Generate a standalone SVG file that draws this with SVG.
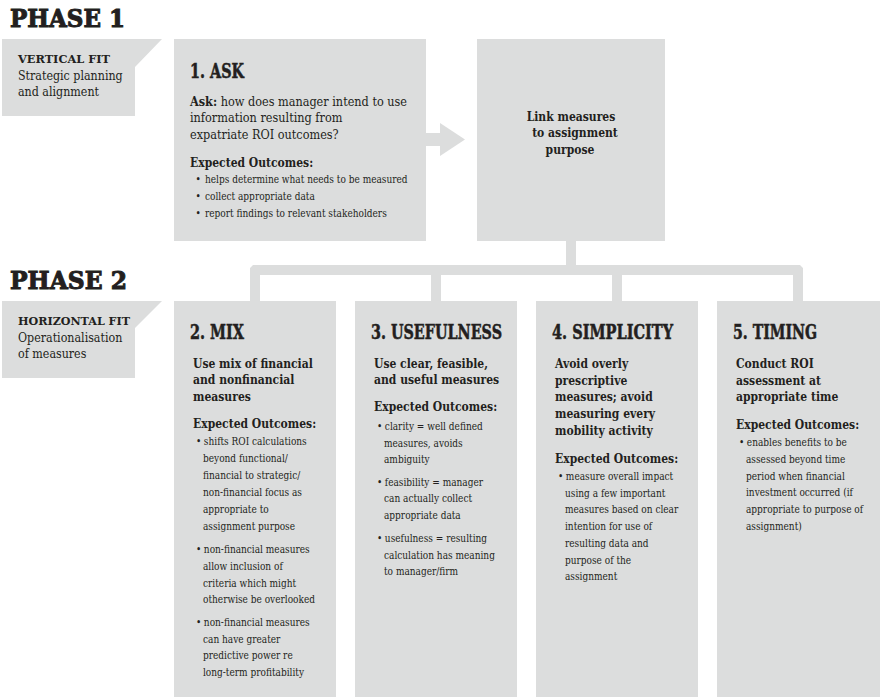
<svg xmlns="http://www.w3.org/2000/svg" width="880" height="697" viewBox="0 0 880 697">
<style>
.box{fill:#dcdddd}
.ph{font-family:"DejaVu Serif","Liberation Serif",serif;font-weight:bold;font-size:24px;fill:#231f20;stroke:#231f20;stroke-width:1}
.ttl{font-family:"DejaVu Serif Condensed","DejaVu Serif",serif;font-weight:bold;font-size:20px;fill:#231f20;stroke:#231f20;stroke-width:0.5}
.fit{font-family:"DejaVu Serif","Liberation Serif",serif;font-weight:bold;font-size:11px;fill:#231f20}
.sub{font-family:"DejaVu Serif Condensed","DejaVu Serif",serif;font-size:13px;fill:#231f20}
.b{font-family:"DejaVu Serif Condensed","DejaVu Serif",serif;font-weight:bold;font-size:12px;fill:#231f20}
.t{font-family:"DejaVu Serif Condensed","DejaVu Serif",serif;font-size:11.5px;fill:#231f20}
.q{font-family:"DejaVu Serif Condensed","DejaVu Serif",serif;font-size:13px;fill:#231f20}
</style>

<text class="ph" x="10" y="27" textLength="115" lengthAdjust="spacingAndGlyphs">PHASE 1</text>
<text class="ph" x="10" y="289" textLength="117" lengthAdjust="spacingAndGlyphs">PHASE 2</text>

<g id="connectors">
<polygon class="box" points="426,133 440,133 440,123 465,139.5 440,156 440,146 426,146"/>
<rect class="box" x="566" y="240" width="10" height="26"/>
<polygon class="box" points="250,268 253,265 800,265 803,268 803,301 793,301 793,275 622,275 622,301 612,301 612,275 441,275 441,301 431,301 431,275 260,275 260,301 250,301"/>
</g>

<g id="vertical-fit">
<polygon class="box" points="2,39 162,39 135,67 135,116 2,116"/>
<text class="fit" x="18" y="63" textLength="92" lengthAdjust="spacingAndGlyphs">VERTICAL FIT</text>
<g transform="translate(18,0) scale(0.95,1)">
<text class="sub" x="0" y="80">Strategic planning</text>
<text class="sub" x="0" y="96">and alignment</text>
</g>
</g>

<g id="horizontal-fit">
<polygon class="box" points="2,301 162,301 135,328 135,378 2,378"/>
<text class="fit" x="18" y="325" textLength="112" lengthAdjust="spacingAndGlyphs">HORIZONTAL FIT</text>
<g transform="translate(18,0) scale(0.95,1)">
<text class="sub" x="0" y="342">Operationalisation</text>
<text class="sub" x="0" y="358">of measures</text>
</g>
</g>

<g id="ask">
<rect class="box" x="174" y="39" width="252" height="202"/>
<text class="ttl" x="190" y="78" textLength="54" lengthAdjust="spacingAndGlyphs">1. ASK</text>
<g transform="translate(190,0) scale(0.965,1)">
<text class="q" x="0" y="106"><tspan font-weight="bold">Ask:</tspan> how does manager intend to use</text>
<text class="q" x="0" y="122">information resulting from</text>
<text class="q" x="0" y="139">expatriate ROI outcomes?</text>
</g>
<text class="b" x="190" y="167">Expected Outcomes:</text>
<g transform="translate(205,0) scale(0.87,1)">
<text class="t" x="-11" y="183">•</text><text class="t" x="0" y="183">helps determine what needs to be measured</text>
<text class="t" x="-11" y="200">•</text><text class="t" x="0" y="200">collect appropriate data</text>
<text class="t" x="-11" y="217">•</text><text class="t" x="0" y="217">report findings to relevant stakeholders</text>
</g>
</g>

<g id="link">
<rect class="box" x="477" y="39" width="188" height="202"/>
<text class="b" x="571" y="121" text-anchor="middle">Link measures</text>
<text class="b" x="575" y="137" text-anchor="middle">to assignment</text>
<text class="b" x="570" y="154" text-anchor="middle">purpose</text>
</g>

<g id="mix">
<rect class="box" x="174" y="301" width="162" height="396"/>
<text class="ttl" x="190" y="339" textLength="54" lengthAdjust="spacingAndGlyphs">2. MIX</text>
<text class="b" x="193" y="368">Use mix of financial</text>
<text class="b" x="193" y="384">and nonfinancial</text>
<text class="b" x="193" y="401">measures</text>
<text class="b" x="193" y="428">Expected Outcomes:</text>
<g transform="translate(203,0) scale(0.87,1)">
<text class="t" x="-8" y="445">•</text><text class="t" x="1" y="445">shifts ROI calculations</text>
<text class="t" x="0" y="462">beyond functional/</text>
<text class="t" x="0" y="479">financial to strategic/</text>
<text class="t" x="0" y="496">non-financial focus as</text>
<text class="t" x="0" y="513">appropriate to</text>
<text class="t" x="0" y="530">assignment purpose</text>
<text class="t" x="-8" y="553">•</text><text class="t" x="1" y="553">non-financial measures</text>
<text class="t" x="0" y="570">allow inclusion of</text>
<text class="t" x="0" y="587">criteria which might</text>
<text class="t" x="0" y="603">otherwise be overlooked</text>
<text class="t" x="-8" y="626">•</text><text class="t" x="1" y="626">non-financial measures</text>
<text class="t" x="0" y="643">can have greater</text>
<text class="t" x="0" y="659">predictive power re</text>
<text class="t" x="0" y="676">long-term profitability</text>
</g>
</g>

<g id="usefulness">
<rect class="box" x="355" y="301" width="162" height="396"/>
<text class="ttl" x="371" y="339" textLength="131" lengthAdjust="spacingAndGlyphs">3. USEFULNESS</text>
<text class="b" x="374" y="368">Use clear, feasible,</text>
<text class="b" x="374" y="384">and useful measures</text>
<text class="b" x="374" y="411">Expected Outcomes:</text>
<g transform="translate(384,0) scale(0.87,1)">
<text class="t" x="-8" y="430">•</text><text class="t" x="1" y="430">clarity = well defined</text>
<text class="t" x="0" y="447">measures, avoids</text>
<text class="t" x="0" y="463">ambiguity</text>
<text class="t" x="-8" y="486">•</text><text class="t" x="1" y="486">feasibility = manager</text>
<text class="t" x="0" y="502">can actually collect</text>
<text class="t" x="0" y="519">appropriate data</text>
<text class="t" x="-8" y="542">•</text><text class="t" x="1" y="542">usefulness = resulting</text>
<text class="t" x="0" y="559">calculation has meaning</text>
<text class="t" x="0" y="575">to manager/firm</text>
</g>
</g>

<g id="simplicity">
<rect class="box" x="536" y="301" width="162" height="396"/>
<text class="ttl" x="552" y="339" textLength="121" lengthAdjust="spacingAndGlyphs">4. SIMPLICITY</text>
<text class="b" x="555" y="368">Avoid overly</text>
<text class="b" x="555" y="385">prescriptive</text>
<text class="b" x="555" y="401">measures; avoid</text>
<text class="b" x="555" y="418">measuring every</text>
<text class="b" x="555" y="435">mobility activity</text>
<text class="b" x="555" y="463">Expected Outcomes:</text>
<g transform="translate(565,0) scale(0.87,1)">
<text class="t" x="-8" y="480">•</text><text class="t" x="1" y="480">measure overall impact</text>
<text class="t" x="0" y="497">using a few important</text>
<text class="t" x="0" y="513">measures based on clear</text>
<text class="t" x="0" y="530">intention for use of</text>
<text class="t" x="0" y="547">resulting data and</text>
<text class="t" x="0" y="564">purpose of the</text>
<text class="t" x="0" y="580">assignment</text>
</g>
</g>

<g id="timing">
<rect class="box" x="717" y="301" width="163" height="396"/>
<text class="ttl" x="733" y="339" textLength="84" lengthAdjust="spacingAndGlyphs">5. TIMING</text>
<text class="b" x="736" y="368">Conduct ROI</text>
<text class="b" x="736" y="385">assessment at</text>
<text class="b" x="736" y="401">appropriate time</text>
<text class="b" x="736" y="429">Expected Outcomes:</text>
<g transform="translate(746,0) scale(0.87,1)">
<text class="t" x="-8" y="446">•</text><text class="t" x="1" y="446">enables benefits to be</text>
<text class="t" x="0" y="463">assessed beyond time</text>
<text class="t" x="0" y="480">period when financial</text>
<text class="t" x="0" y="496">investment occurred (if</text>
<text class="t" x="0" y="513">appropriate to purpose of</text>
<text class="t" x="0" y="530">assignment)</text>
</g>
</g>
</svg>
